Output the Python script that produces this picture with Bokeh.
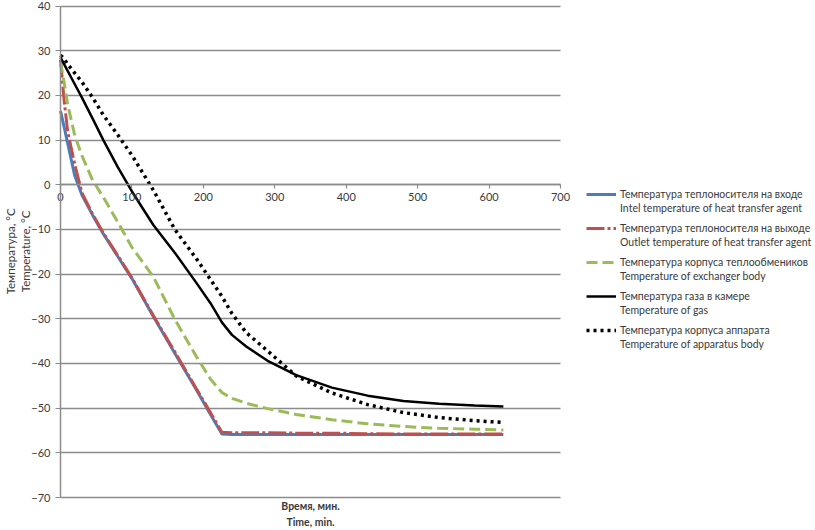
import math
from bokeh.plotting import figure
from bokeh.models import Legend, LegendItem, Label, FixedTicker
from bokeh.embed import file_html
from bokeh.resources import INLINE

# ---- data ----
time_min = [0, 5, 10, 20, 30, 45, 60, 80, 100, 130, 160, 190, 210, 226,
            240, 260, 290, 330, 380, 430, 480, 530, 580, 620]
inlet = [16.5, 13.0, 9.3, 2.0, -2.3, -6.8, -11.0, -16.0, -21.0, -29.5, -37.7, -45.8,
         -51.4, -55.8, -55.9, -55.9, -55.9, -55.9, -55.9, -55.9, -55.9, -55.9, -55.9, -55.9]
outlet = [28.0, 19.0, 12.0, 4.5, -1.8, -6.6, -10.8, -15.8, -20.8, -29.3, -37.4, -45.6,
          -51.0, -55.4, -55.5, -55.5, -55.5, -55.6, -55.6, -55.7, -55.8, -55.8, -55.8, -55.8]
exchanger = [27.5, 23.0, 18.0, 11.0, 6.5, 1.0, -2.8, -8.3, -14.0, -20.6, -30.1, -38.4,
             -43.5, -46.5, -47.8, -48.9, -50.1, -51.4, -52.6, -53.5, -54.1, -54.5, -54.7, -54.9]
gas = [28.5, 27.0, 25.5, 22.5, 19.5, 14.8, 10.0, 4.0, -1.5, -9.0, -15.2, -21.9,
       -26.5, -30.8, -33.6, -36.2, -39.4, -42.6, -45.4, -47.2, -48.4, -49.0, -49.4, -49.6]
apparatus = [29.0, 28.2, 27.0, 25.0, 23.0, 19.5, 15.6, 11.2, 6.6, -1.2, -10.0, -16.5,
             -21.2, -25.0, -28.8, -33.1, -37.2, -42.8, -46.6, -49.2, -51.0, -52.1, -52.8, -53.2]

x_ticks = [0, 100, 200, 300, 400, 500, 600, 700]
y_ticks = [40, 30, 20, 10, 0, -10, -20, -30, -40, -50, -60, -70]

labels_ru = [
    "Температура теплоносителя на входе",
    "Температура теплоносителя на выходе",
    "Температура корпуса теплообмеников",
    "Температура газа в камере",
    "Температура корпуса аппарата",
]
labels_en = [
    "Intel temperature of heat transfer agent",
    "Outlet temperature of heat transfer agent",
    "Temperature of exchanger body",
    "Temperature of gas",
    "Temperature of apparatus body",
]
x_title = ["Время, мин.", "Time, min."]
y_title = ["Температура, °C", "Temperature, °C"]

FONT = "Lato"
GRID = "#8c8c8c"
TXT = "#3a3a3a"

W, H = 815, 530
# whole canvas is the frame; axes drawn at fixed data locations
p = figure(width=W, height=H, output_backend="svg", toolbar_location=None,
           x_range=(-84.0, 1057.0), y_range=(-77.38, 41.24), min_border=0)
p.min_border_left = p.min_border_right = p.min_border_top = p.min_border_bottom = 0
p.outline_line_color = None
p.background_fill_color = "white"

# grid
p.xgrid.grid_line_color = None
g = p.ygrid[0]
g.grid_line_color = GRID
g.grid_line_width = 1.3
g.ticker = FixedTicker(ticks=y_ticks)
try:
    g.cross_bounds = (x_ticks[0], x_ticks[-1])
except Exception:
    g.grid_line_color = None
    p.segment(x0=[x_ticks[0]] * len(y_ticks), x1=[x_ticks[-1]] * len(y_ticks),
              y0=y_ticks, y1=y_ticks, line_color=GRID, line_width=1.3, level="underlay")

# axes
p.xaxis.ticker = FixedTicker(ticks=x_ticks)
p.yaxis.ticker = FixedTicker(ticks=y_ticks)
p.xaxis.fixed_location = 0
p.yaxis.fixed_location = 0
p.xaxis.bounds = (x_ticks[0], x_ticks[-1])
p.yaxis.bounds = (y_ticks[-1], y_ticks[0])
for ax in (p.xaxis, p.yaxis):
    ax.axis_line_color = GRID
    ax.axis_line_width = 1.5
    ax.major_tick_line_color = GRID
    ax.major_tick_line_width = 1.2
    ax.minor_tick_line_color = None
    ax.major_tick_in = 0
    ax.major_label_text_font = FONT
    ax.major_label_text_font_size = "11px"
    ax.major_label_text_color = TXT
    ax.axis_label = None
p.xaxis.major_tick_out = 4
p.yaxis.major_tick_out = 5
p.yaxis.major_label_standoff = 5
p.xaxis.major_label_standoff = 4

# series
r1 = p.line(time_min, inlet, line_color="#4a7ebb", line_width=3)
r2 = p.line(time_min, outlet, line_color="#c0504d", line_width=3, line_dash="18 3 3 3")
r3 = p.line(time_min, exchanger, line_color="#9bbb59", line_width=3, line_dash="11 5")
r4 = p.line(time_min, gas, line_color="black", line_width=2.5)
r5 = p.line(time_min, apparatus, line_color="black", line_width=3.5, line_dash="3 4")
rends = [r1, r2, r3, r4, r5]


def make_legend(texts, loc, glyph_w, standoff):
    lg = Legend(items=[LegendItem(label=t, renderers=[r]) for t, r in zip(texts, rends)],
                location=loc)
    lg.label_text_font = FONT
    lg.label_text_font_size = "10.5px"
    lg.label_text_color = TXT
    lg.glyph_width = glyph_w
    lg.glyph_height = 14
    lg.label_height = 14
    lg.label_standoff = standoff
    lg.spacing = 20
    lg.padding = 0
    lg.margin = 0
    lg.border_line_color = None
    lg.background_fill_alpha = 0
    return lg


# Russian line with the line sample, English line below it (no sample)
p.add_layout(make_legend(labels_ru, (586, 193), 30, 4), "center")
p.add_layout(make_legend(labels_en, (620, 179), 0, 0), "center")

# axis titles
for txt, yy in zip(x_title, [-72.0, -75.4]):
    p.add_layout(Label(x=350, y=yy, text=txt, text_align="center",
                       text_baseline="middle", text_font=FONT, text_font_style="bold",
                       text_font_size="10.5px", text_color=TXT))
for txt, xx in zip(y_title, [-70, -49]):
    p.add_layout(Label(x=xx, y=-14.9, text=txt, angle=math.pi / 2,
                       text_align="center", text_baseline="middle", text_font=FONT,
                       text_font_size="11.5px", text_color=TXT))

open("out.html", "w").write(file_html(p, INLINE))
